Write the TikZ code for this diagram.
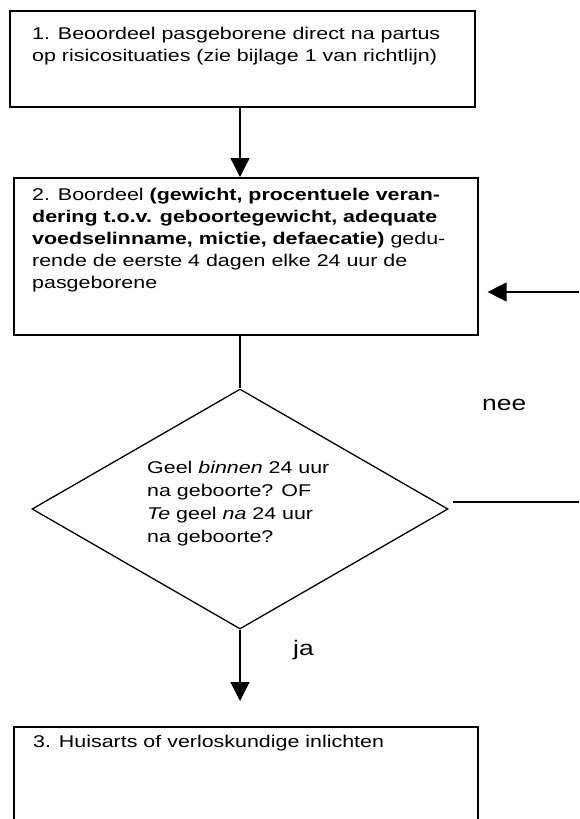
\documentclass[tikz,border=0pt]{standalone}
\usepackage{fontspec}
\setmainfont{Liberation Sans}[FakeStretch=1.26]
\usetikzlibrary{arrows.meta,shapes.geometric}
\begin{document}
\begin{tikzpicture}[x=1pt,y=-1pt,
  every node/.style={font=\fontsize{17}{22}\selectfont},
  box/.style={draw, line width=1.6pt, rectangle, inner sep=0pt, anchor=north west},
  txt/.style={inner sep=0pt, anchor=base west},
  lbl/.style={inner sep=0pt, anchor=base west, font=\fontsize{21}{25}\selectfont},
  conn/.style={line width=1.3pt},
  tip/.style={-{Triangle[length=19pt,width=19pt]}},
  decision/.style={draw, diamond, line width=1.3pt, inner sep=0pt, minimum width=416pt, minimum height=240pt}]
\useasboundingbox (0,0) rectangle (579,819);
\clip (0,0) rectangle (579,819);
% boxes
\node[box, line width=2pt, minimum width=465pt, minimum height=96pt] (b1) at (9,10) {};
\node[box, minimum width=464pt, minimum height=157pt] (b2) at (13,177) {};
\node[box, minimum width=464pt, minimum height=140pt] (b3) at (13,726) {};
\node[decision] (dia) at (240,509) {};
% texts
\node[txt] (t1) at (32,39) {\begin{tabular}[t]{@{}l@{}}1. Beoordeel pasgeborene direct na partus\\ op risicosituaties (zie bijlage 1 van richtlijn)\end{tabular}};
\node[txt] (t2) at (32,200) {\begin{tabular}[t]{@{}l@{}}2. Boordeel \textbf{(gewicht, procentuele veran-}\\ \textbf{dering t.o.v. geboortegewicht, adequate}\\ \textbf{voedselinname, mictie, defaecatie)} gedu-\\ rende de eerste 4 dagen elke 24 uur de\\ pasgeborene\end{tabular}};
\node[txt, font=\fontsize{17}{23}\selectfont] (td) at (147,473) {\begin{tabular}[t]{@{}l@{}}Geel \textit{binnen} 24 uur\\ na geboorte? OF\\ \textit{Te} geel \textit{na} 24 uur\\ na geboorte?\end{tabular}};
\node[txt] (t3) at (33,747) {3. Huisarts of verloskundige inlichten};
\node[lbl] (nee) at (482,410) {nee};
\node[lbl] (ja) at (293,655) {ja};
% connectors
\draw[conn, tip] (b1.south -| dia.north) -- (b2.north -| dia.north);
\draw[conn] (b2.south -| dia.north) -- (dia.north);
\draw[conn, tip, shorten >=25pt] (dia.south) -- (b3.north -| dia.south);
\coordinate (r0) at (579,292);
\draw[conn, tip, shorten >=9pt] (r0) -- (r0 -| b2.east);
\coordinate (n1) at (579,502);
\draw[conn] ([xshift=4pt,yshift=7pt]dia.east) -- (n1);
\end{tikzpicture}
\end{document}
